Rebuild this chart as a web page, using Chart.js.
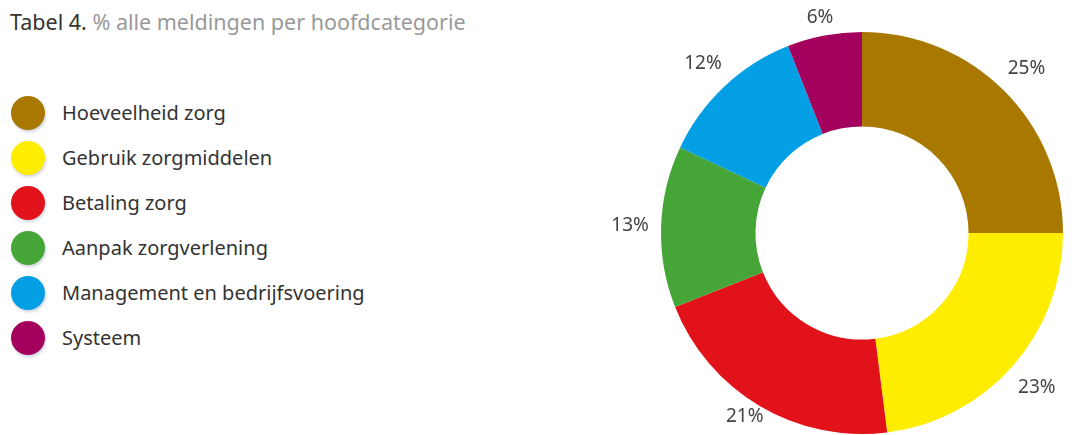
<!DOCTYPE html>
<html>
<head>
<meta charset="utf-8">
<script src="https://cdn.jsdelivr.net/npm/chart.js@4.4.0/dist/chart.umd.min.js"></script>
<style>
  html, body { margin: 0; padding: 0; background: #fff; }
  body { width: 1081px; height: 435px; position: relative; overflow: hidden; font-family: "Noto Sans", "Open Sans", sans-serif; }
  .title { position: absolute; left: 10px; top: 7px; font-size: 21.5px; color: #999; white-space: nowrap; }
  .title b { font-weight: normal; color: #333; }
  .legend { position: absolute; left: 11px; top: 90px; margin: 0; padding: 0; list-style: none; }
  .legend li { height: 45px; display: flex; align-items: center; font-size: 20px; color: #333; }
  .legend i { display: inline-block; width: 34px; height: 34px; border-radius: 50%; margin-right: 17px; box-shadow: 1px 2px 3px rgba(120,130,160,0.35); }
  canvas#donut { position: absolute; left: 0; top: 0; }
</style>
</head>
<body>
<div class="title"><b>Tabel 4.</b> % alle meldingen per hoofdcategorie</div>
<ul class="legend" id="legend"></ul>
<canvas id="donut" width="1081" height="435"></canvas>
<script>
// data
const categories = ['Hoeveelheid zorg', 'Gebruik zorgmiddelen', 'Betaling zorg', 'Aanpak zorgverlening', 'Management en bedrijfsvoering', 'Systeem'];
const percentages = [25, 23, 21, 13, 12, 6];
const colors = ['#a97800', '#ffed00', '#e2121b', '#45a637', '#029fe4', '#a4005e'];

// legend
const legend = document.getElementById('legend');
categories.forEach((name, i) => {
  const li = document.createElement('li');
  li.innerHTML = '<i style="background:' + colors[i] + '"></i>' + name;
  legend.appendChild(li);
});

// percentage labels just outside the ring, pushed out by half the text box
// and kept inside the canvas
const outsideLabels = {
  id: 'outsideLabels',
  afterDatasetsDraw(chart) {
    const ctx = chart.ctx;
    const meta = chart.getDatasetMeta(0);
    ctx.save();
    ctx.font = '19px "Noto Sans", "Open Sans", sans-serif';
    ctx.fillStyle = '#444';
    ctx.textAlign = 'center';
    ctx.textBaseline = 'middle';
    meta.data.forEach((arc, i) => {
      const p = arc.getProps(['x', 'y', 'startAngle', 'endAngle', 'outerRadius'], true);
      const mid = (p.startAngle + p.endAngle) / 2;
      const text = percentages[i] + '%';
      const halfW = ctx.measureText(text).width / 2;
      const cos = Math.cos(mid), sin = Math.sin(mid);
      const r = p.outerRadius + 12 + Math.abs(cos) * halfW + Math.abs(sin) * 9;
      let y = p.y + sin * r;
      y = Math.min(Math.max(y, 18), chart.height - 18);
      ctx.fillText(text, p.x + cos * r, y);
    });
    ctx.restore();
  }
};

const donut = document.getElementById('donut');

new Chart(donut, {
  type: 'doughnut',
  data: {
    labels: categories,
    datasets: [{
      data: percentages,
      backgroundColor: colors,
      borderWidth: 0,
      hoverOffset: 0
    }]
  },
  options: {
    responsive: false,
    animation: false,
    cutout: '53%',
    layout: {
      padding: { left: 661, right: 18, top: 32, bottom: 1 }
    },
    plugins: {
      legend: { display: false },
      tooltip: { enabled: false }
    }
  },
  plugins: [outsideLabels]
});
</script>
</body>
</html>
